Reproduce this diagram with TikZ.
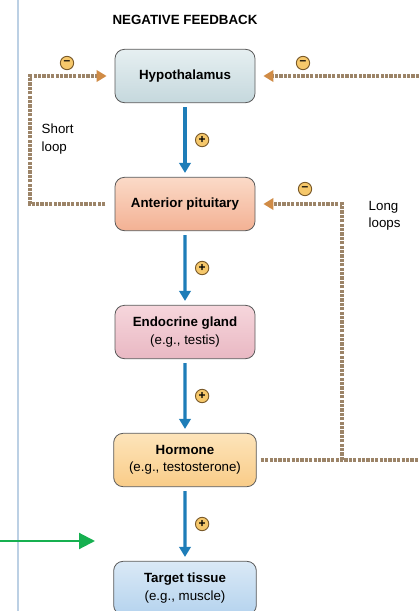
\documentclass[tikz,border=0pt]{standalone}
\usepackage{fontspec}
\setmainfont{Liberation Sans}
\usetikzlibrary{arrows.meta}

\definecolor{flowblue}{HTML}{1E7DB8}
\definecolor{loopbrown}{HTML}{9C8468}
\definecolor{tipbrown}{HTML}{D08B45}
\definecolor{signfill}{HTML}{F6C86B}
\definecolor{signedge}{HTML}{7A5A2A}
\definecolor{sidegray}{HTML}{BCD0E4}
\definecolor{markgreen}{HTML}{16B050}

\tikzset{
  organ/.style={draw=black!65,line width=0.6pt,rounded corners=7pt,
    minimum width=105pt,minimum height=40pt,align=center,
    font=\fontsize{10}{13}\selectfont},
  sign/.style={circle,draw=signedge,line width=0.7pt,fill=signfill,
    minimum size=10pt,inner sep=0pt,font=\bfseries\fontsize{9}{9}\selectfont},
  fbline/.style={draw=loopbrown,line width=2.6pt,dash pattern=on 2.4pt off 0.9pt},
  fbarrow/.style={fbline,-{Triangle[width=8.5pt,length=7.5pt,color=tipbrown]},
    shorten >=6pt},
  note/.style={align=left,font=\fontsize{10}{13}\selectfont}
}

\begin{document}
\begin{tikzpicture}[x=0.75pt,y=-0.75pt,level distance=96pt,
    edge from parent/.style={draw=flowblue,line width=2.6pt,
      -{Triangle[width=8.5pt,length=7.5pt]},shorten <=3pt,shorten >=3pt}]
    \useasboundingbox (0,0) rectangle (419,611);
    \draw[sidegray,line width=0.8pt] (18,0) -- (18,611);

    \node [font=\bfseries\fontsize{10}{12}\selectfont] (title) at (185,20) {NEGATIVE FEEDBACK};

    \node [organ,top color={rgb,255:red,230;green,239;blue,241},bottom color={rgb,255:red,197;green,216;blue,221}] (hyp) at (185,76) {\textbf{Hypothalamus}}
        child {node [organ,top color={rgb,255:red,251;green,218;blue,200},bottom color={rgb,255:red,243;green,177;blue,147}] (ap) {\textbf{Anterior pituitary}}
            child {node [organ,top color={rgb,255:red,246;green,214;blue,220},bottom color={rgb,255:red,233;green,184;blue,195}] (gland) {\textbf{Endocrine gland}\\(e.g., testis)}
                child {node [organ,minimum width=107pt,top color={rgb,255:red,253;green,228;blue,186},bottom color={rgb,255:red,249;green,204;blue,136}] (hormone) {\textbf{Hormone}\\(e.g., testosterone)}
                    child {node [organ,minimum width=107pt,top color={rgb,255:red,218;green,233;blue,246},bottom color={rgb,255:red,181;green,211;blue,238}] (target) {\textbf{Target tissue}\\(e.g., muscle)}
                        edge from parent node [sign,right=7.5pt] (p4) {+}
                    }
                    edge from parent node [sign,right=7.5pt] (p3) {+}
                }
                edge from parent node [sign,right=7.5pt] (p2) {+}
            }
            edge from parent node [sign,right=7.5pt] (p1) {+}
        };

    % short loop
    \coordinate (slc) at (30,76);
    \draw [fbarrow] ([xshift=-7pt]ap.west) -| (slc) -- (hyp.west);
    \node [sign] (m1) at (67,63) {–};
    \node [note,anchor=west] (shortlbl) at (37,139) {Short\\loop};

    % long loops
    \coordinate (rtop) at (419,76);
    \coordinate (rbot) at (419,460);
    \coordinate (llc) at (342,204);
    \draw [fbarrow] (rtop) -- (hyp.east);
    \draw [fbline] ([xshift=3pt]hormone.east) -- (rbot);
    \draw [fbarrow] (hormone.east -| llc) -- (llc) -- (ap.east);
    \node [sign] (m2) at (303,63) {–};
    \node [sign] (m3) at (305,189) {–};
    \node [note,anchor=west] (longlbl) at (364,216) {Long\\loops};

    % marker arrow
    \coordinate (gstart) at (0,541);
    \coordinate (gtip) at (95,541);
    \draw [markgreen,line width=1.6pt,-{Triangle[width=12pt,length=12pt]}] (gstart) -- (gtip);
\end{tikzpicture}
\end{document}
